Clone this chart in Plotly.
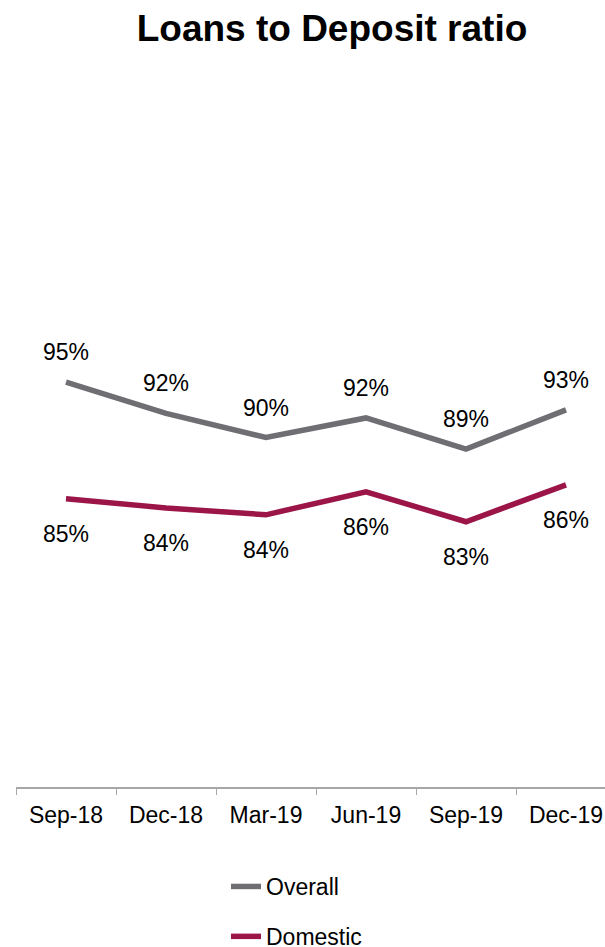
import plotly.graph_objects as go

categories = ["Sep-18", "Dec-18", "Mar-19", "Jun-19", "Sep-19", "Dec-19"]
overall = [95.1, 92.4, 90.3, 92.0, 89.3, 92.7]
domestic = [85.0, 84.2, 83.6, 85.6, 83.0, 86.2]

GRAY = "#6F6F73"
MAROON = "#9B1549"
FONT = "Liberation Sans, Arial, sans-serif"

fig = go.Figure()
fig.add_trace(go.Scatter(x=categories, y=overall, mode="lines", name="Overall",
                         line=dict(color=GRAY, width=5.5), legendgroup="a"))
fig.add_trace(go.Scatter(x=categories, y=domestic, mode="lines", name="Domestic",
                         line=dict(color=MAROON, width=5.5), legendgroup="b"))

annotations = []
for c, v in zip(categories, overall):
    annotations.append(dict(x=c, y=v, xref="x", yref="y", text=f"{v:.0f}%",
                            showarrow=False, yshift=30,
                            font=dict(size=23, color="#000000", family=FONT)))
for c, v in zip(categories, domestic):
    annotations.append(dict(x=c, y=v, xref="x", yref="y", text=f"{v:.0f}%",
                            showarrow=False, yshift=-35,
                            font=dict(size=23, color="#000000", family=FONT)))

fig.update_layout(
    width=605, height=947,
    margin=dict(l=16, r=0, t=95, b=160, autoexpand=False),
    paper_bgcolor="white", plot_bgcolor="white",
    font=dict(family=FONT, size=23, color="#000000"),
    title=dict(text="<b>Loans to Deposit ratio</b>", x=332/605, xref="container",
               xanchor="center", y=1-28/947, yref="container", yanchor="middle",
               font=dict(size=37, family=FONT, color="#000000")),
    showlegend=True,
    legend=dict(orientation="v", xref="container", yref="container",
                x=226/605, xanchor="left", y=1-865/947, yanchor="top",
                traceorder="grouped", tracegroupgap=17,
                font=dict(size=23, family=FONT, color="#000000"),
                bgcolor="rgba(0,0,0,0)"),
    annotations=annotations,
)
fig.update_xaxes(type="category", range=[-0.5, 5.39], showline=True,
                 linecolor="#A6A6A6", linewidth=1.5, ticks="outside",
                 tickson="boundaries", ticklen=6, tickcolor="#A6A6A6",
                 showgrid=False, zeroline=False, tickangle=0,
                 ticklabelstandoff=7,
                 tickfont=dict(size=23, family=FONT, color="#000000"))
fig.update_yaxes(range=[60, 120], visible=False, showgrid=False, zeroline=False)

fig.write_html("out.html")
